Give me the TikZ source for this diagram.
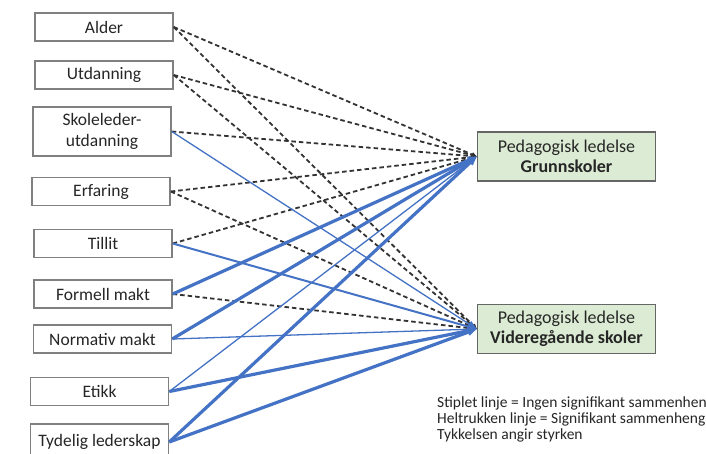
\documentclass[tikz,border=0pt]{standalone}
\usepackage{fontspec}
\setmainfont{Carlito}
\usetikzlibrary{arrows.meta}
\definecolor{boxgray}{HTML}{808080}
\definecolor{greenfill}{HTML}{DCEBD3}
\definecolor{linkblue}{HTML}{4472C4}
\definecolor{dashgray}{HTML}{333333}
\tikzset{
  leftbox/.style={draw=boxgray, line width=1.5pt, fill=white, minimum width=138pt, minimum height=28pt, inner sep=0pt, align=center, font=\fontsize{17.5}{21}\selectfont, text=black!85},
  rightbox/.style={draw=boxgray!80!black, line width=1.5pt, fill=greenfill, minimum width=178pt, minimum height=49pt, inner sep=0pt, align=center, font=\fontsize{18}{20}\selectfont, text=black!85},
  nolink/.style={draw=dashgray, line width=1.8pt, dash pattern=on 4.5pt off 3pt, -{Triangle[length=5pt,width=4.5pt]}},
  link/.style={draw=linkblue, -{Triangle[length=9pt,width=7pt]}},
  thinlink/.style={link, line width=1.3pt},
  medlink/.style={link, line width=2pt},
  thicklink/.style={link, line width=3.2pt},
  legend/.style={anchor=west, inner sep=0pt, font=\fontsize{15.5}{16}\selectfont, text=black!85}
}
\begin{document}
\begin{tikzpicture}[x=1pt,y=-1pt]
\useasboundingbox[fill=white] (0,0) rectangle (706,454);
\node[leftbox] (alder) at (104,27) {Alder};
\node[leftbox] (utd) at (104,75) {Utdanning};
\node[leftbox, minimum height=49pt] (skole) at (102,131.5) {Skoleleder-\\utdanning};
\node[leftbox] (erf) at (101,191.5) {Erfaring};
\node[leftbox] (till) at (103,243.5) {Tillit};
\node[leftbox] (form) at (103,294) {Formell makt};
\node[leftbox] (norm) at (102.5,339) {Normativ makt};
\node[leftbox] (etikk) at (99.5,391.5) {Etikk};
\node[leftbox, minimum height=36pt] (tyd) at (99.5,442) {Tydelig lederskap};
\node[rightbox] (gs) at (566.5,156.5) {Pedagogisk ledelse\\\textbf{Grunnskoler}};
\node[rightbox] (vs) at (566.5,329) {Pedagogisk ledelse\\\textbf{Videregående skoler}};
% dashed: no significant relation
\draw[nolink] (alder.east) -- (gs.west);
\draw[nolink] (alder.east) -- (vs.west);
\draw[nolink] (utd.east) -- (gs.west);
\draw[nolink] (utd.east) -- (vs.west);
\draw[nolink] (skole.east) -- (gs.west);
\draw[nolink] (erf.east) -- (gs.west);
\draw[nolink] (erf.east) -- (vs.west);
\draw[nolink] (till.east) -- (gs.west);
\draw[nolink] (form.east) -- (vs.west);
% solid: significant relation
\draw[thinlink] (skole.east) -- (vs.west);
\draw[medlink] (till.east) -- (vs.west);
\draw[thicklink] (form.east) -- (gs.west);
\draw[thicklink] (norm.east) -- (gs.west);
\draw[thinlink] (norm.east) -- (vs.west);
\draw[thinlink] (etikk.east) -- (gs.west);
\draw[thicklink] (etikk.east) -- (vs.west);
\draw[thicklink] (tyd.east) -- (gs.west);
\draw[thicklink] (tyd.east) -- (vs.west);
% legend
\node[legend] (l1) at (437,403) {Stiplet linje = Ingen signifikant sammenheng};
\node[legend] (l2) at (437,419) {Heltrukken linje = Signifikant sammenheng};
\node[legend] (l3) at (437,435) {Tykkelsen angir styrken};
\end{tikzpicture}
\end{document}
